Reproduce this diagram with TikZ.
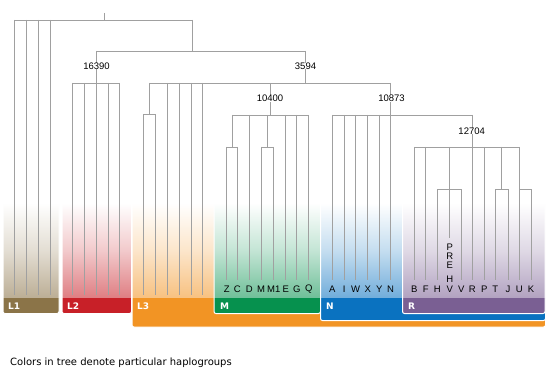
\documentclass[tikz,border=0pt]{standalone}
\usepackage{fontspec}
\newfontfamily\leaffont{Liberation Sans}
\newfontfamily\capfont{DejaVu Sans}
\definecolor{cLone}{RGB}{139,116,72}
\definecolor{cLtwo}{RGB}{200,32,40}
\definecolor{cLthree}{RGB}{242,148,36}
\definecolor{cM}{RGB}{6,145,78}
\definecolor{cN}{RGB}{10,114,192}
\definecolor{cR}{RGB}{122,95,147}
\definecolor{treegray}{RGB}{160,160,160}
\tikzset{
  tl/.style={draw=treegray, line width=0.9pt},
  leaflab/.style={font=\leaffont\fontsize{9.5}{9.5}\selectfont, inner sep=0pt, text=black},
  numlab/.style={font=\leaffont\fontsize{9.5}{9.5}\selectfont, inner sep=0pt, fill=white, text=black},
  grplab/.style={font=\capfont\bfseries\fontsize{9}{9}\selectfont, inner sep=0pt, text=white, anchor=west},
}
\newcommand\grpbox[5]{%
  \shade[top color=white, bottom color=#5!58!white, middle color=#5!24!white] (#1,203) rectangle (#2,298);
  \fill[#5] (#1,298) [rounded corners=2pt] -- (#1,#4) -- (#3,#4) [sharp corners] -- (#3,298) -- cycle;
  \draw[white, line width=1pt] (#1,203) [rounded corners=2pt] -- (#1,#4) -- (#3,#4) [sharp corners] -- (#3,203);
}
\begin{document}
\begin{tikzpicture}[x=1pt,y=-1pt]
\useasboundingbox (0,0) rectangle (549,374);
\fill[white] (0,0) rectangle (549,374);
% coloured haplogroup boxes
\grpbox{132}{214}{545.5}{327}{cLthree}
\grpbox{3}{59}{59}{313.5}{cLone}
\grpbox{62}{131.5}{131.5}{313.5}{cLtwo}
\grpbox{214}{320.5}{320.5}{313.5}{cM}
\grpbox{320.5}{402.5}{545.5}{320.5}{cN}
\grpbox{402.5}{545}{545}{313.5}{cR}
\node[grplab] (gL1) at (8,306) {L1};
\node[grplab] (gL2) at (67,306) {L2};
\node[grplab] (gL3) at (137,306) {L3};
\node[grplab] (gM) at (220,306) {M};
\node[grplab] (gN) at (326,306) {N};
\node[grplab] (gR) at (408,306) {R};
% tree
\coordinate (root) at (104.5,13);
\draw[tl] (root) -- (104.5,20);
\draw[tl] (14.5,20) -- (192,20);
\foreach \x in {14.5,26.5,38.5,50.5} \draw[tl] (\x,20) -- (\x,295);
\draw[tl] (192,20) -- (192,51);
\draw[tl] (96.5,51) -- (305.5,51);
% L2
\draw[tl] (96.5,51) -- (96.5,83);
\draw[tl] (72.5,83) -- (119.5,83);
\foreach \x in {72.5,84.5,96.5,108.5,119.5} \draw[tl] (\x,83) -- (\x,295);
% L3 and beyond
\draw[tl] (305.5,51) -- (305.5,83);
\draw[tl] (149.5,83) -- (390.5,83);
\draw[tl] (149.5,83) -- (149.5,114.5);
\draw[tl] (143.5,114.5) -- (155.5,114.5);
\foreach \x in {143.5,155.5} \draw[tl] (\x,114.5) -- (\x,295);
\foreach \x in {167.5,179.5,191,202.5} \draw[tl] (\x,83) -- (\x,295);
% M
\draw[tl] (270,83) -- (270,115);
\draw[tl] (232,115) -- (308.7,115);
\draw[tl] (232,115) -- (232,147);
\draw[tl] (226.7,147) -- (237.3,147);
\draw[tl] (267.3,115) -- (267.3,147);
\draw[tl] (261,147) -- (273.7,147);
\foreach \x in {226.7,237.3,261,273.7} \draw[tl] (\x,147) -- (\x,280);
\foreach \x in {249.3,285.7,296.7,308.7} \draw[tl] (\x,115) -- (\x,280);
% N
\draw[tl] (390.5,83) -- (390.5,280);
\draw[tl] (332.3,115) -- (472.3,115);
\foreach \x in {332.3,344.3,355.7,367.7,379.3} \draw[tl] (\x,115) -- (\x,280);
% R
\draw[tl] (472.3,115) -- (472.3,280);
\draw[tl] (414.3,147) -- (519.3,147);
\foreach \x in {414.3,425.7,484.3} \draw[tl] (\x,147) -- (\x,280);
\draw[tl] (449.7,147) -- (449.7,238);
\draw[tl] (437.3,189.3) -- (461.3,189.3);
\foreach \x in {437.3,461.3} \draw[tl] (\x,189.3) -- (\x,280);
\draw[tl] (501.7,147) -- (501.7,189.3);
\draw[tl] (495.3,189.3) -- (508,189.3);
\foreach \x in {495.3,508} \draw[tl] (\x,189.3) -- (\x,280);
\draw[tl] (519.3,147) -- (519.3,280);
\draw[tl] (519.3,189.3) -- (531,189.3);
\draw[tl] (531,189.3) -- (531,280);
% node numbers
\node[numlab] (n16390) at (96.5,66) {16390};
\node[numlab] (n3594) at (305.5,66) {3594};
\node[numlab] (n10400) at (270,98.5) {10400};
\node[numlab] (n10873) at (391.5,98.5) {10873};
\node[numlab] (n12704) at (471.7,131) {12704};
% leaf labels
\foreach \x/\t [count=\i] in {226.7/Z,237.3/C,249.3/D,261/M,273.7/M1,285.7/E,296.7/G,308.7/Q,
  332.3/A,344.3/I,355.7/W,367.7/X,379.3/Y,390.5/N,
  414.3/B,425.7/F,437.3/H,449.7/V,461.3/V,472.3/R,484.3/P,495.3/T,508/J,519.3/U,531/K}
  \node[leaflab] (leaf\i) at (\x,289.3) {\t};
\node[leaflab] (preP) at (449.7,247) {P};
\node[leaflab] (preR) at (449.7,256) {R};
\node[leaflab] (preE) at (449.7,265) {E};
\node[leaflab] (preH) at (449.7,279) {H};
% caption
\node[font=\capfont\fontsize{10}{10}\selectfont, anchor=base west, inner sep=0pt] (caption) at (10,365.5) {Colors in tree denote particular haplogroups};
\end{tikzpicture}
\end{document}
